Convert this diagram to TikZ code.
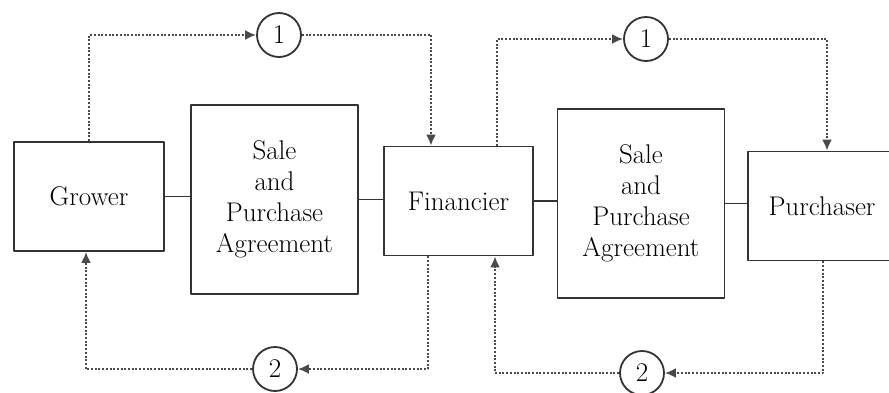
\documentclass[tikz,border=0pt]{standalone}
\usepackage{xcolor}
\usepackage{tikz}
\usetikzlibrary{positioning,calc,arrows.meta}

\definecolor{inkbox}{HTML}{333333}
\definecolor{inkdot}{HTML}{4A4A4A}

\begin{document}
\begin{tikzpicture}[x=1pt,y=-1pt, font=\fontsize{27}{31}\selectfont, line cap=round, line join=round]
				\useasboundingbox (0,0) rectangle (889,392);
				\clip (0,0) rectangle (889,392);
				
				% ===== styles =====
				\tikzset{
					party/.style={draw=inkbox, line width=1.8pt, text=black, minimum width=150pt, minimum height=109pt, inner sep=0pt},
					deal/.style={draw=inkbox, line width=1.8pt, text=black, minimum width=167pt, minimum height=189pt, inner sep=0pt, align=center},
					step circ/.style={circle, draw=inkbox, line width=1.8pt, text=black, minimum size=44pt, inner sep=0pt},
					flow/.style={draw=inkdot, line width=2.1pt, line cap=butt, dash pattern=on 2pt off 1.7pt, -{Latex[length=11pt,width=10pt]}},
					link/.style={draw=inkbox, line width=1.8pt}
				}
				
				% ===== các hộp =====
				\node[party] (grower) at (89,196.5) {Grower};
				\node[deal] (spa1) at (274.5,199.5) {Sale\\and\\Purchase\\Agreement};
				\node[party, minimum width=149pt] (fin) at (458.5,201) {Financier};
				\node[deal] (spa2) at (641,203.5) {Sale\\and\\Purchase\\Agreement};
				\node[party, minimum width=148pt] (pur) at (822,206) {Purchaser};
				
				% ===== các vòng tròn =====
				\node[step circ] (c1a) at (279,35) {1};
				\node[step circ] (c2a) at (275,369) {2};
				\node[step circ] (c1b) at (646,39) {1};
				\node[step circ] (c2b) at (642,373) {2};
				
				% ===== nối liền =====
				\draw[link] (grower.east) -- (grower.east -| spa1.west);
				\draw[link] (spa1.east) -- (spa1.east -| fin.west);
				\draw[link] (fin.east) -- (fin.east -| spa2.west);
				\draw[link] (spa2.east) -- (spa2.east -| pur.west);
				
				% ===== nối chấm: trái =====
				\draw[flow] (grower.north) |- (c1a.west);
				\draw[flow] (c1a.east) -| ([xshift=-27.5pt]fin.north);
				\draw[flow] ([xshift=-30.5pt]fin.south) |- (c2a.east);
				\draw[flow] (c2a.west) -| ([xshift=-3pt]grower.south);
				
				% ===== nối chấm: phải =====
				\draw[flow] ([xshift=38.5pt]fin.north) |- (c1b.west);
				\draw[flow] (c1b.east) -| ([xshift=5pt]pur.north);
				\draw[flow] ([xshift=1pt]pur.south) |- (c2b.east);
				\draw[flow] (c2b.west) -| ([xshift=36.5pt]fin.south);
			\end{tikzpicture}
\end{document}
